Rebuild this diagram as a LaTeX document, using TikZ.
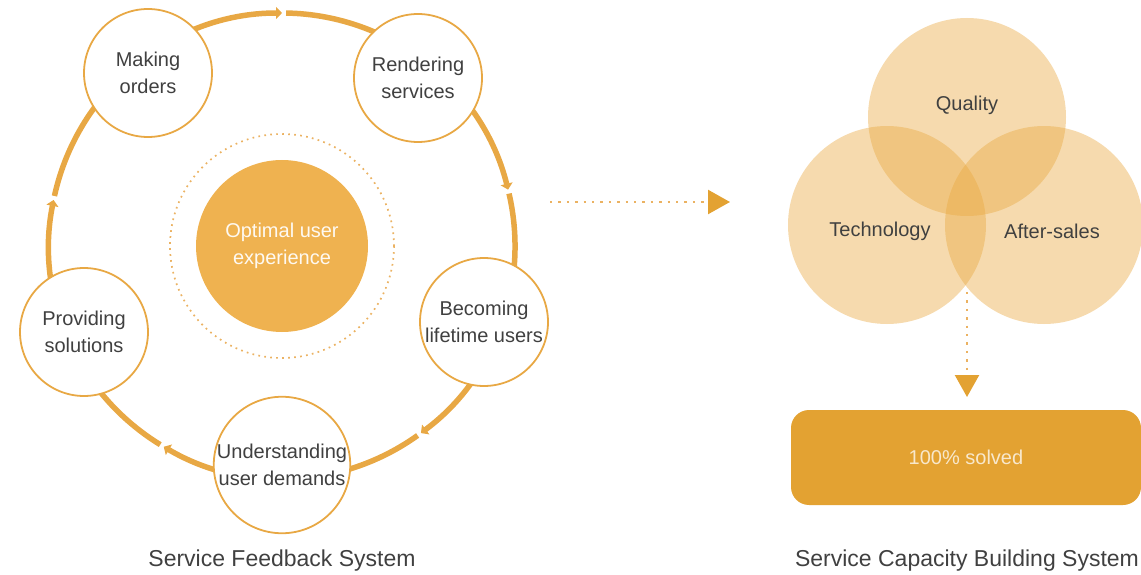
\documentclass[tikz,border=0pt]{standalone}
\usepackage{fontspec}
\setmainfont{Liberation Sans}
\usetikzlibrary{arrows.meta}
\definecolor{ringc}{HTML}{E8A844}
\definecolor{corec}{HTML}{EFB250}
\definecolor{vennc}{HTML}{E9A83F}
\definecolor{boxc}{HTML}{E3A232}
\definecolor{dotc}{HTML}{EBB262}
\definecolor{txtc}{HTML}{404040}
\tikzset{
  stage/.style={circle, draw=ringc, line width=1.8pt, fill=white, minimum size=128pt, inner sep=0pt,
    text=txtc, align=center, font=\fontsize{20}{27}\selectfont},
  ringseg/.style={draw=ringc, line width=5.5pt, -{Triangle[length=6pt,width=12pt]}},
  venn/.style={circle, fill=vennc, fill opacity=0.42, minimum size=198pt, inner sep=0pt},
  venntxt/.style={text=txtc, font=\fontsize{20}{24}\selectfont},
  dotline/.style={draw=dotc, line width=2.4pt, dash pattern=on 2.4pt off 6pt,
    -{Triangle[length=22pt,width=24pt,color=boxc]}},
  caption/.style={text=txtc, font=\fontsize{23}{27}\selectfont}
}
\begin{document}
\begin{tikzpicture}[x=1pt,y=1pt]
\useasboundingbox (0,0) rectangle (1141,574);
% ring
\coordinate (ring) at (282,328);
\draw[ringseg] (ring) ++(167.6:233) arc[start angle=167.6, end angle=90, radius=233];
\draw[ringseg] (ring) ++(89:233) arc[start angle=89, end angle=14, radius=233];
\draw[ringseg] (ring) ++(13:233) arc[start angle=13, end angle=-53.4, radius=233];
\draw[ringseg] (ring) ++(-54.4:233) arc[start angle=-54.4, end angle=-120.5, radius=233];
\draw[ringseg] (ring) ++(-121.5:233) arc[start angle=-121.5, end angle=-191.4, radius=233];
% core
\node[circle, draw=dotc, line width=1.7pt, dash pattern=on 1.7pt off 4.3pt, minimum size=224pt, inner sep=0pt] (dots) at (ring) {};
\node[circle, fill=corec, minimum size=172pt, inner sep=0pt, text=white!92!corec, align=center,
  font=\fontsize{20}{27}\selectfont] (core) at (ring) {Optimal user\\experience};
% stages
\node[stage] (s1) at (148,501) {Making\\orders};
\node[stage] (s2) at (418,496) {Rendering\\services};
\node[stage] (s3) at (484,252) {Becoming\\lifetime users};
\node[stage] (s4) at (282,109) {Understanding\\user demands};
\node[stage] (s5) at (84,242) {Providing\\solutions};
\node[caption] (cap1) at (282,13) {Service Feedback System};
% arrow right
\coordinate (a1) at (550,372);
\coordinate (a2) at (730,372);
\draw[dotline] (a1) -- (a2);
% venn
\node[venn] (vq) at (967,457) {};
\node[venn] (vt) at (887,349) {};
\node[venn] (va) at (1044,349) {};
\node[venntxt] (tq) at (967,469) {Quality};
\node[venntxt] (tt) at (880,343) {Technology};
\node[venntxt] (ta) at (1052,343) {After-sales};
\coordinate (b1) at (967,282);
\coordinate (b2) at (967,177);
\draw[dotline] (b1) -- (b2);
\node[rectangle, rounded corners=18pt, fill=boxc, minimum width=350pt, minimum height=95pt,
  text=white!75!boxc, font=\fontsize{20}{24}\selectfont] (res) at (966,116.5) {100\% solved};
\node[caption] (cap2) at (967,13) {Service Capacity Building System};
\end{tikzpicture}
\end{document}
